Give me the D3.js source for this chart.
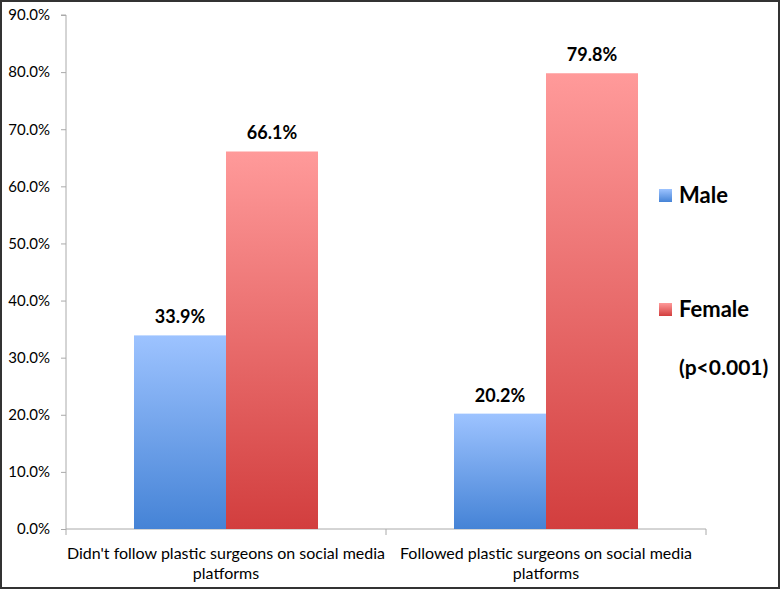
<!DOCTYPE html>
<html><head><meta charset="utf-8">
<script src="https://cdn.jsdelivr.net/npm/d3@7"></script>
<style>body{margin:0;background:#fff}svg{display:block}</style>
</head><body>
<svg id="c" width="780" height="589"></svg>
<script>
const categories = [["Didn't follow plastic surgeons on social media","platforms"],["Followed plastic surgeons on social media","platforms"]];
const seriesNames = ["Male","Female"];
const male = [33.9, 20.2];
const female = [66.1, 79.8];
const yTicks = [0,10,20,30,40,50,60,70,80,90];
const note = "(p<0.001)";

const svg = d3.select("#c");
const font = "Lato, 'Open Sans', sans-serif";
const pL = 66, pR = 706, pT = 15, pB = 529;
const x = d3.scaleBand().domain([0,1]).range([pL,pR]).paddingInner(0).paddingOuter(0);
const y = d3.scaleLinear().domain([0,90]).range([pB,pT]);
const inner = d3.scaleBand().domain([0,1]).range([0,x.bandwidth()]).paddingInner(0).paddingOuter(0.739);

const defs = svg.append("defs");
const grads = [["#9dc3ff","#4583d6"],["#ff9a9a","#d23e3e"]];
grads.forEach((g,i)=>{
  const lg = defs.append("linearGradient").attr("id","g"+i).attr("x1",0).attr("y1",0).attr("x2",0).attr("y2",1);
  lg.append("stop").attr("offset","0%").attr("stop-color",g[0]);
  lg.append("stop").attr("offset","100%").attr("stop-color",g[1]);
});

svg.append("rect").attr("x",1).attr("y",1).attr("width",778).attr("height",587).attr("fill","#fff").attr("stroke","#333").attr("stroke-width",2);

// y axis
const ya = svg.append("g").attr("transform",`translate(${pL},0)`)
  .call(d3.axisLeft(y).tickValues(yTicks).tickSize(5).tickPadding(11).tickFormat(d=>d.toFixed(1)+"%"));
ya.select(".domain").attr("stroke","#aaa").attr("d",`M-5,${pT}H0V${pB}`);
ya.selectAll(".tick line").attr("stroke","#aaa");
ya.selectAll(".tick text").attr("font-family",font).attr("font-size",15).attr("fill","#000");

// x axis
const xa = svg.append("g").attr("transform",`translate(0,${pB})`);
xa.append("path").attr("d",`M${pL},0H${pR}`).attr("stroke","#aaa").attr("fill","none");
[pL, pL+x.bandwidth(), pR].forEach(v=>{
  xa.append("line").attr("x1",v).attr("x2",v).attr("y1",0).attr("y2",6).attr("stroke","#aaa");
});

const data = [male,female];
data.forEach((vals,s)=>{
  vals.forEach((v,i)=>{
    const bx = x(i)+inner(s);
    svg.append("rect").attr("x",bx).attr("y",y(v)).attr("width",inner.bandwidth()).attr("height",pB-y(v)).attr("fill",`url(#g${s})`);
    svg.append("text").attr("x",bx+inner.bandwidth()/2).attr("y",y(v)-12).attr("text-anchor","middle")
      .attr("font-family",font).attr("font-weight","bold").attr("font-size",18).text(v.toFixed(1)+"%");
  });
});

categories.forEach((lines,i)=>{
  const t = svg.append("text").attr("x",x(i)+x.bandwidth()/2).attr("y",559).attr("text-anchor","middle")
    .attr("font-family",font).attr("font-size",16).attr("fill","#000");
  lines.forEach((l,j)=>t.append("tspan").attr("x",x(i)+x.bandwidth()/2).attr("dy",j?20:0).text(l));
});

// legend
const legY = [195, 309];
seriesNames.forEach((n,s)=>{
  svg.append("rect").attr("x",659).attr("y",legY[s]-6).attr("width",13).attr("height",13).attr("fill",`url(#g${s})`);
  svg.append("text").attr("x",679).attr("y",legY[s]+8).attr("font-family",font).attr("font-weight","bold").attr("font-size",22).text(n);
});
svg.append("text").attr("x",679).attr("y",375).attr("font-family",font).attr("font-weight","bold").attr("font-size",21).text(note);
</script>
</body></html>
